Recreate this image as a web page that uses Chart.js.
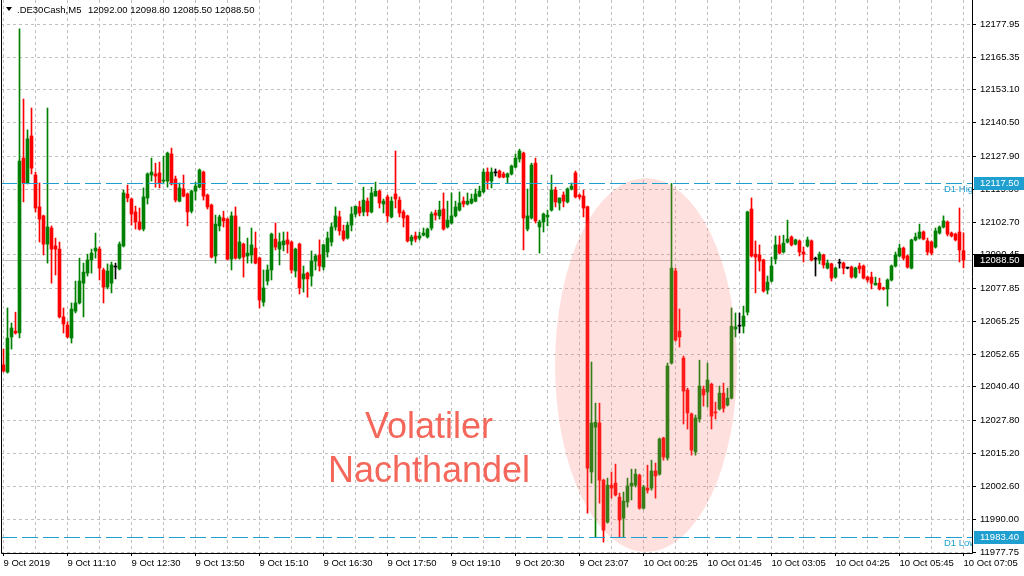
<!DOCTYPE html>
<html lang="de">
<head>
<meta charset="UTF-8">
<title>.DE30Cash,M5</title>
<script src="https://cdn.jsdelivr.net/npm/chart.js"></script>
<style>
  html, body { margin: 0; padding: 0; background: #fff; }
</style>
</head>
<body>
<canvas id="chart" width="1024" height="576"></canvas>
<script>
// OHLC of the M5 candles (oldest first)
const openP = [
  12048.7, 12046.0, 12059.3, 12061.5, 12060.8, 12127.1, 12117.7, 12135.5, 12120.7, 12108.6,
  12105.2, 12094.5, 12100.6, 12093.8, 12092.6, 12066.9, 12063.8, 12058.9, 12069.1, 12072.2,
  12079.7, 12083.5, 12088.5, 12091.9, 12092.6, 12084.7, 12078.2, 12079.7, 12085.8, 12085.1,
  12093.8, 12113.5, 12111.6, 12106.7, 12102.9, 12100.2, 12112.0, 12120.7, 12121.1, 12121.5,
  12118.4, 12118.4, 12128.7, 12119.2, 12110.8, 12115.4, 12113.5, 12107.0, 12114.6, 12116.1,
  12121.8, 12113.1, 12109.3, 12090.0, 12101.4, 12104.4, 12104.0, 12088.8, 12105.2, 12089.2,
  12094.5, 12090.0, 12090.4, 12093.0, 12089.2, 12072.5, 12080.5, 12084.7, 12096.4, 12092.6,
  12094.2, 12096.1, 12095.3, 12084.3, 12094.5, 12081.3, 12083.5, 12082.4, 12088.1, 12090.4,
  12085.8, 12091.5, 12095.3, 12101.0, 12104.8, 12099.5, 12096.8, 12101.7, 12105.9, 12108.6,
  12106.7, 12110.8, 12106.7, 12112.7, 12114.6, 12109.7, 12112.4, 12104.8, 12113.5, 12111.2,
  12106.7, 12105.2, 12095.7, 12097.6, 12096.8, 12097.9, 12097.2, 12100.6, 12106.3, 12105.2,
  12107.8, 12101.0, 12102.5, 12105.2, 12107.4, 12110.8, 12109.7, 12110.1, 12110.8, 12112.7,
  12114.3, 12121.8, 12118.4, 12121.5, 12122.2, 12121.1, 12119.9, 12121.1, 12123.7, 12126.8,
  12129.0, 12100.2, 12104.4, 12125.2, 12101.0, 12102.9, 12104.8, 12107.4, 12115.0, 12110.1,
  12113.1, 12110.5, 12115.4, 12121.5, 12113.1, 12112.7, 12108.6, 12008.1, 12025.1, 12026.7,
  12005.0, 11989.1, 12003.1, 12003.9, 11998.6, 11990.6, 11996.7, 12002.8, 12003.1, 12006.9,
  11994.4, 12002.0, 12002.0, 12008.5, 12007.3, 12021.0, 12013.4, 12049.4, 12084.3, 12061.5,
  12051.3, 12039.2, 12030.1, 12015.7, 12028.2, 12039.5, 12038.4, 12041.4, 12030.8, 12032.0,
  12038.0, 12033.5, 12036.1, 12062.3, 12063.4, 12063.4, 12068.7, 12107.8, 12090.7, 12090.4,
  12088.5, 12077.1, 12080.5, 12088.8, 12094.2, 12091.5, 12095.3, 12097.2, 12094.5, 12095.7,
  12091.5, 12093.8, 12095.7, 12088.8, 12088.5, 12090.4, 12085.4, 12087.0, 12082.0, 12087.3,
  12087.3, 12085.4, 12085.8, 12082.0, 12086.2, 12086.2, 12082.0, 12082.0, 12079.0, 12079.7,
  12077.9, 12077.5, 12080.9, 12086.2, 12090.0, 12093.0, 12090.0, 12085.4, 12096.1, 12096.8,
  12099.1, 12095.7, 12095.3, 12093.4, 12098.7, 12101.0, 12102.9, 12098.7, 12098.3, 12099.1,
  12092.0
];
const highP = [
  12054.7, 12070.3, 12064.6, 12068.7, 12176.1, 12149.5, 12137.8, 12146.1, 12121.8, 12117.7,
  12105.5, 12146.1, 12101.4, 12096.8, 12095.3, 12070.3, 12065.0, 12072.2, 12080.5, 12089.2,
  12087.3, 12090.7, 12092.6, 12098.7, 12093.4, 12085.4, 12087.0, 12087.7, 12087.3, 12095.3,
  12115.0, 12116.9, 12112.0, 12108.9, 12108.2, 12115.8, 12121.5, 12127.1, 12125.2, 12125.6,
  12127.9, 12129.4, 12130.9, 12120.3, 12117.7, 12120.7, 12113.9, 12115.0, 12118.0, 12123.0,
  12122.2, 12113.5, 12109.7, 12105.5, 12105.5, 12107.0, 12104.4, 12106.7, 12108.6, 12101.0,
  12094.9, 12096.8, 12100.6, 12099.1, 12089.6, 12084.7, 12086.6, 12098.7, 12102.5, 12098.7,
  12099.1, 12099.1, 12095.7, 12093.0, 12094.9, 12086.2, 12083.9, 12091.9, 12090.7, 12096.1,
  12094.5, 12099.1, 12102.5, 12108.6, 12107.0, 12101.7, 12102.9, 12108.6, 12108.9, 12110.8,
  12116.1, 12112.0, 12116.1, 12118.0, 12115.0, 12111.6, 12113.1, 12112.4, 12129.8, 12112.4,
  12107.4, 12105.5, 12097.9, 12099.1, 12099.1, 12100.6, 12100.6, 12106.7, 12107.4, 12110.8,
  12113.9, 12110.8, 12113.9, 12110.8, 12114.3, 12112.4, 12113.9, 12113.5, 12115.4, 12116.5,
  12123.0, 12123.4, 12123.4, 12123.0, 12122.6, 12121.8, 12121.5, 12124.5, 12128.7, 12130.5,
  12129.4, 12115.4, 12125.2, 12127.1, 12103.6, 12106.3, 12107.4, 12120.7, 12116.1, 12112.0,
  12114.3, 12115.8, 12117.7, 12122.2, 12113.5, 12115.0, 12108.9, 12049.8, 12034.2, 12034.2,
  12005.4, 12005.8, 12008.1, 12011.1, 12000.1, 12000.5, 12005.8, 12009.2, 12009.2, 12007.3,
  12003.1, 12010.7, 12012.6, 12011.5, 12021.0, 12021.3, 12049.4, 12117.5, 12085.4, 12069.9,
  12052.1, 12039.9, 12030.5, 12029.7, 12050.5, 12040.7, 12049.4, 12041.8, 12034.6, 12040.7,
  12041.8, 12039.9, 12070.3, 12068.4, 12068.4, 12071.0, 12107.0, 12112.0, 12095.7, 12094.2,
  12088.8, 12082.4, 12089.6, 12097.6, 12097.6, 12097.9, 12103.6, 12097.6, 12096.4, 12096.1,
  12093.4, 12097.2, 12096.1, 12089.6, 12091.5, 12090.7, 12088.5, 12087.3, 12085.8, 12088.8,
  12087.7, 12085.8, 12086.2, 12085.8, 12087.3, 12086.6, 12082.4, 12083.9, 12082.0, 12081.6,
  12078.2, 12081.3, 12086.6, 12091.5, 12094.5, 12093.4, 12090.4, 12096.4, 12098.7, 12102.1,
  12099.5, 12096.8, 12095.7, 12100.6, 12101.4, 12105.2, 12103.3, 12099.1, 12098.7, 12108.2,
  12098.8
];
const lowP = [
  12046.0, 12045.6, 12054.7, 12060.4, 12058.9, 12110.5, 12117.3, 12121.1, 12106.7, 12095.3,
  12090.4, 12087.3, 12079.7, 12082.8, 12066.5, 12060.8, 12058.9, 12057.0, 12068.4, 12071.8,
  12066.9, 12082.4, 12083.5, 12089.2, 12080.9, 12072.2, 12077.5, 12076.0, 12081.3, 12084.7,
  12093.4, 12110.5, 12101.7, 12100.2, 12099.8, 12099.5, 12109.7, 12118.4, 12116.1, 12115.8,
  12117.3, 12116.1, 12116.9, 12110.5, 12110.5, 12112.4, 12101.4, 12106.3, 12111.2, 12115.8,
  12111.2, 12107.8, 12089.2, 12087.3, 12099.5, 12101.0, 12088.5, 12084.7, 12088.8, 12088.8,
  12082.0, 12087.3, 12087.3, 12087.0, 12070.3, 12071.0, 12079.0, 12080.9, 12092.3, 12086.6,
  12091.9, 12091.1, 12083.5, 12082.0, 12075.6, 12076.3, 12074.4, 12078.6, 12084.7, 12084.3,
  12084.7, 12089.6, 12093.8, 12099.8, 12097.9, 12095.7, 12096.4, 12099.5, 12104.8, 12105.2,
  12105.2, 12105.2, 12106.3, 12112.7, 12108.2, 12106.3, 12102.9, 12104.4, 12108.2, 12104.8,
  12101.0, 12095.3, 12094.2, 12095.3, 12096.1, 12097.6, 12096.8, 12099.8, 12103.6, 12104.0,
  12099.8, 12100.6, 12102.1, 12104.8, 12107.0, 12108.6, 12109.3, 12109.7, 12110.5, 12112.4,
  12113.9, 12115.4, 12115.8, 12120.3, 12119.6, 12119.6, 12117.7, 12120.7, 12123.4, 12125.6,
  12092.3, 12099.5, 12104.0, 12102.5, 12091.1, 12099.1, 12101.4, 12107.0, 12108.6, 12107.4,
  12108.6, 12110.1, 12115.0, 12112.0, 12111.6, 12104.8, 11992.5, 12003.9, 11983.4, 11996.3,
  11981.5, 11988.7, 11998.2, 11999.0, 11983.4, 11983.4, 11994.8, 11997.5, 12002.4, 11994.0,
  11994.0, 12000.1, 12001.2, 11998.2, 12006.9, 12012.6, 12012.6, 12049.0, 12057.7, 12055.5,
  12026.3, 12024.4, 12014.5, 12014.5, 12027.0, 12033.1, 12032.7, 12024.4, 12028.2, 12031.6,
  12030.8, 12033.1, 12035.8, 12059.3, 12060.8, 12060.8, 12067.6, 12089.6, 12076.0, 12084.3,
  12076.3, 12075.6, 12080.1, 12087.0, 12090.7, 12091.1, 12094.9, 12093.8, 12094.2, 12090.0,
  12087.7, 12093.4, 12088.1, 12082.4, 12087.0, 12085.4, 12085.1, 12080.5, 12081.6, 12085.4,
  12083.2, 12085.1, 12081.6, 12081.6, 12083.5, 12081.3, 12080.1, 12077.5, 12079.0, 12077.1,
  12077.1, 12071.0, 12080.5, 12085.8, 12089.6, 12088.5, 12085.4, 12085.1, 12095.7, 12096.4,
  12096.1, 12090.4, 12090.4, 12093.0, 12098.3, 12100.6, 12097.6, 12097.2, 12095.7, 12087.7,
  12085.5
];
const closeP = [
  12046.4, 12058.9, 12062.7, 12060.8, 12126.0, 12117.7, 12134.4, 12123.3, 12108.2, 12104.0,
  12094.5, 12101.0, 12092.6, 12092.6, 12066.9, 12064.2, 12059.3, 12069.9, 12072.2, 12080.5,
  12083.9, 12088.5, 12091.1, 12093.0, 12085.4, 12078.2, 12084.3, 12086.6, 12085.8, 12094.5,
  12113.9, 12112.0, 12105.9, 12102.9, 12100.2, 12112.4, 12121.1, 12121.8, 12120.3, 12117.7,
  12118.8, 12129.0, 12117.3, 12111.2, 12115.8, 12112.7, 12106.7, 12114.6, 12116.5, 12122.6,
  12112.7, 12108.6, 12089.6, 12102.1, 12104.8, 12103.3, 12088.8, 12105.2, 12089.2, 12095.3,
  12089.6, 12091.1, 12094.2, 12087.3, 12073.3, 12077.9, 12084.7, 12098.3, 12093.4, 12095.3,
  12095.7, 12094.5, 12084.7, 12092.6, 12077.9, 12083.2, 12081.3, 12088.1, 12090.0, 12086.2,
  12094.2, 12096.8, 12101.0, 12105.2, 12099.5, 12096.4, 12101.7, 12105.9, 12108.9, 12106.3,
  12111.2, 12106.7, 12113.9, 12114.6, 12110.1, 12110.8, 12105.2, 12110.8, 12111.6, 12106.3,
  12104.4, 12095.7, 12097.2, 12096.4, 12097.6, 12098.7, 12100.2, 12105.9, 12105.5, 12107.4,
  12100.2, 12103.6, 12105.2, 12108.6, 12110.1, 12109.7, 12110.8, 12111.6, 12113.5, 12114.6,
  12121.8, 12118.4, 12121.8, 12121.5, 12119.9, 12119.9, 12121.1, 12124.1, 12127.1, 12129.8,
  12104.4, 12105.2, 12124.5, 12103.3, 12102.9, 12105.9, 12105.5, 12115.0, 12110.5, 12112.0,
  12110.8, 12115.4, 12116.5, 12112.4, 12112.4, 12108.2, 12009.6, 12026.7, 12027.0, 12005.0,
  11986.1, 12003.1, 12002.0, 11999.4, 11989.9, 11997.1, 12002.8, 12003.9, 12007.3, 11994.4,
  12002.4, 12001.2, 12008.5, 12006.6, 12020.6, 12013.8, 12048.3, 12085.4, 12058.1, 12059.3,
  12038.8, 12030.5, 12016.4, 12028.6, 12040.7, 12037.3, 12043.0, 12029.3, 12030.5, 12038.0,
  12032.3, 12036.1, 12063.4, 12063.1, 12063.4, 12067.2, 12106.7, 12090.0, 12089.6, 12088.1,
  12076.7, 12080.1, 12086.2, 12094.2, 12091.1, 12094.9, 12096.4, 12094.2, 12096.1, 12091.5,
  12090.7, 12096.1, 12088.5, 12088.8, 12090.7, 12086.6, 12087.3, 12081.6, 12085.4, 12087.3,
  12085.4, 12085.4, 12082.0, 12085.4, 12085.1, 12081.6, 12080.9, 12079.7, 12079.7, 12077.5,
  12077.5, 12080.9, 12086.2, 12090.4, 12093.0, 12089.2, 12085.8, 12096.1, 12097.2, 12099.1,
  12096.4, 12091.5, 12091.1, 12099.5, 12101.0, 12103.3, 12098.3, 12097.6, 12096.1, 12092.3,
  12088.5
];

// axis labels as shown by the terminal
const timeLabels = ['9 Oct 2019', '9 Oct 11:10', '9 Oct 12:30', '9 Oct 13:50', '9 Oct 15:10',
  '9 Oct 16:30', '9 Oct 17:50', '9 Oct 19:10', '9 Oct 20:30', '9 Oct 23:07', '10 Oct 00:25',
  '10 Oct 01:45', '10 Oct 03:05', '10 Oct 04:25', '10 Oct 05:45', '10 Oct 07:05'];
const priceTicks = [12177.95, 12165.35, 12153.10, 12140.50, 12127.90, 12115.30, 12102.70,
  12090.45, 12077.85, 12065.25, 12052.65, 12040.40, 12027.80, 12015.20, 12002.60, 11990.00, 11977.75];

const d1High = 12117.50;
const d1Low = 11983.40;
const lastPrice = 12088.50;
const headerText = '.DE30Cash,M5';
const headerValues = '12092.00 12098.80 12085.50 12088.50';

const UP = '#008000', DOWN = '#ff0000', DOJI = '#000000';
const D1_COLOR = '#1e9fcf';
const FONT = '"Liberation Sans", Arial, sans-serif';
const SMALL = 9.5;

const candleColors = openP.map((o, i) => closeP[i] > o ? UP : (closeP[i] < o ? DOWN : DOJI));

// extra drawing: price lines, ellipse, annotation, header, frame
const overlay = {
    id: 'overlay',
    beforeDatasetsDraw(chart) {
        const { ctx, chartArea: a, scales: { y } } = chart;
        ctx.save();
        const py = Math.round(y.getPixelForValue(lastPrice)) + 0.5;
        ctx.strokeStyle = '#c0c0c0';
        ctx.lineWidth = 1;
        ctx.beginPath();
        ctx.moveTo(a.left, py);
        ctx.lineTo(a.right, py);
        ctx.stroke();
        ctx.restore();
    },
    afterDatasetsDraw(chart) {
        const { ctx, chartArea: a, scales: { y } } = chart;
        ctx.save();

        // highlight ellipse over the night session
        ctx.fillStyle = 'rgba(252, 120, 110, 0.22)';
        ctx.beginPath();
        ctx.ellipse(646, 365, 91, 187, 0, 0, Math.PI * 2);
        ctx.fill();

        // D1 high / low lines
        ctx.beginPath();
        ctx.rect(a.left, a.top, a.right - a.left, a.bottom - a.top);
        ctx.clip();
        ctx.strokeStyle = D1_COLOR;
        ctx.setLineDash([16, 5]);
        [d1High, d1Low].forEach(v => {
            const py = Math.round(y.getPixelForValue(v)) + 0.5;
            ctx.beginPath();
            ctx.moveTo(a.left, py);
            ctx.lineTo(a.right, py);
            ctx.stroke();
        });
        ctx.setLineDash([]);
        ctx.fillStyle = D1_COLOR;
        ctx.font = SMALL + 'px ' + FONT;
        ctx.textBaseline = 'top';
        ctx.fillText('D1 High', 944, y.getPixelForValue(d1High) + 1);
        ctx.fillText('D1 Low', 944, y.getPixelForValue(d1Low) + 1);
        ctx.restore();

        ctx.save();
        ctx.fillStyle = '#f4675a';
        ctx.font = '36px ' + FONT;
        ctx.textAlign = 'center';
        ctx.textBaseline = 'alphabetic';
        ctx.fillText('Volatiler', 429, 438);
        ctx.fillText('Nachthandel', 429, 482);

        // header
        ctx.fillStyle = '#000';
        ctx.beginPath();
        ctx.moveTo(6, 7);
        ctx.lineTo(12, 7);
        ctx.lineTo(9, 11);
        ctx.closePath();
        ctx.fill();
        ctx.font = SMALL + 'px ' + FONT;
        ctx.textAlign = 'left';
        ctx.textBaseline = 'middle';
        ctx.fillText(headerText, 17, 10);
        ctx.fillText(headerValues, 88, 10);

        // frame
        ctx.strokeStyle = '#000';
        ctx.lineWidth = 1;
        ctx.beginPath();
        ctx.moveTo(a.left + 0.5, 0);
        ctx.lineTo(a.left + 0.5, a.bottom + 0.5);
        ctx.lineTo(a.right + 0.5, a.bottom + 0.5);
        ctx.lineTo(a.right + 0.5, 0);
        ctx.stroke();
        ctx.restore();
    },
    afterDraw(chart) {
        const { ctx, chartArea: a, scales: { y } } = chart;
        ctx.save();
        ctx.font = SMALL + 'px ' + FONT;
        ctx.textBaseline = 'middle';
        [[d1High, D1_COLOR], [lastPrice, '#000'], [d1Low, D1_COLOR]].forEach(([v, c]) => {
            const py = Math.round(y.getPixelForValue(v));
            ctx.fillStyle = c;
            ctx.fillRect(a.right + 2, py - 6, 1024 - a.right - 2, 13);
            ctx.fillStyle = '#fff';
            ctx.fillText(v.toFixed(2), 980, py + 0.5);
        });
        ctx.restore();
    }
};

new Chart(document.getElementById('chart'), {
    type: 'bar',
    data: {
        datasets: [{
            label: 'wick',
            data: openP.map((o, i) => ({ x: i, y: [lowP[i], highP[i]] })),
            backgroundColor: candleColors,
            barThickness: 1,
            grouped: false,
            minBarLength: 1
        }, {
            label: 'body',
            data: openP.map((o, i) => ({ x: i, y: [o, closeP[i]] })),
            backgroundColor: candleColors,
            barThickness: 3,
            grouped: false,
            minBarLength: 1
        }]
    },
    options: {
        responsive: false,
        animation: false,
        devicePixelRatio: 1,
        layout: { padding: { left: 1, top: 0, right: 0, bottom: 0 } },
        plugins: { legend: { display: false }, tooltip: { enabled: false } },
        scales: {
            x: {
                type: 'linear',
                min: -0.625,
                max: 242.125,
                offset: false,
                afterBuildTicks: s => { s.ticks = timeLabels.flatMap((t, k) => [{ value: k * 16 }, { value: k * 16 + 8 }]).filter(t => t.value <= 240); },
                afterFit: s => { s.height = 23; s.paddingLeft = 0; s.paddingRight = 0; },
                grid: {
                    offset: false,
                    color: '#c0c0c0',
                    tickColor: c => (c.tick && c.tick.value % 16 === 0) ? '#000' : 'rgba(0,0,0,0)',
                    tickLength: 3
                },
                border: { display: false, dash: [3, 3] },
                ticks: {
                    autoSkip: false,
                    maxRotation: 0,
                    align: 'start',
                    padding: 2,
                    color: '#000',
                    font: { family: FONT, size: SMALL },
                    callback: v => v % 16 === 0 ? timeLabels[v / 16] : ''
                }
            },
            y: {
                type: 'linear',
                position: 'right',
                min: 11977.4,
                max: 12187.05,
                afterBuildTicks: s => { s.ticks = priceTicks.map(v => ({ value: v })); },
                afterFit: s => { s.width = 52; s.paddingTop = 0; s.paddingBottom = 0; },
                grid: { color: '#c0c0c0', tickColor: '#000', tickLength: 4 },
                border: { display: false, dash: [3, 3] },
                ticks: {
                    padding: 4,
                    color: '#000',
                    font: { family: FONT, size: SMALL },
                    callback: v => v.toFixed(2)
                }
            }
        }
    },
    plugins: [overlay]
});
</script>
</body>
</html>
